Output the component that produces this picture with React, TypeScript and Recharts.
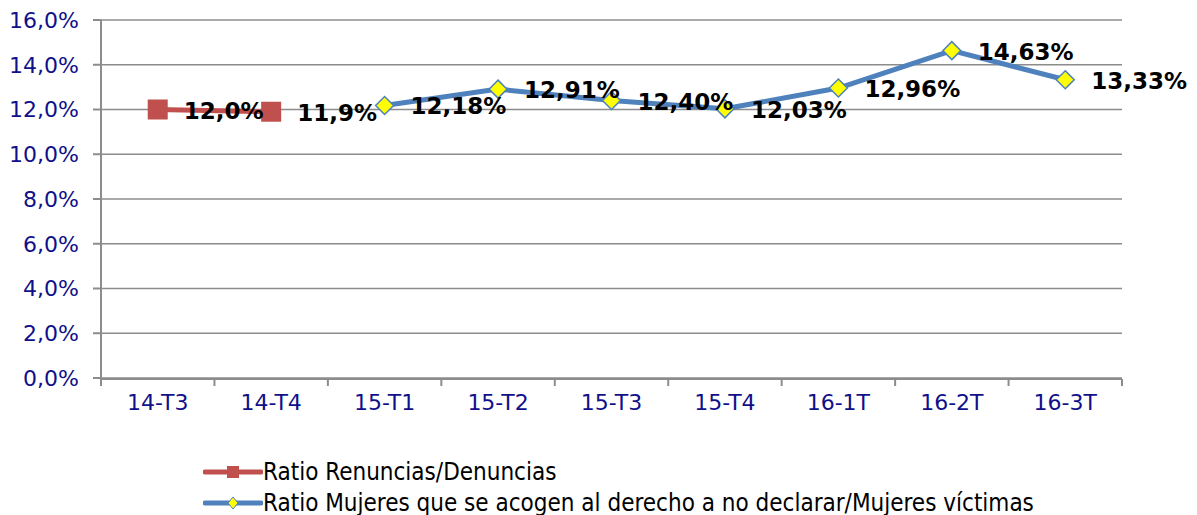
import { LineChart, Line, XAxis, YAxis, CartesianGrid, LabelList } from "recharts";

const categories = ["14-T3", "14-T4", "15-T1", "15-T2", "15-T3", "15-T4", "16-1T", "16-2T", "16-3T"];
const renuncias: (number | null)[] = [12.0, 11.9, null, null, null, null, null, null, null];
const noDeclarar: (number | null)[] = [null, null, 12.18, 12.91, 12.4, 12.03, 12.96, 14.63, 13.33];
const yTicks = [0, 2, 4, 6, 8, 10, 12, 14, 16];
const seriesNames = [
    "Ratio Renuncias/Denuncias",
    "Ratio Mujeres que se acogen al derecho a no declarar/Mujeres víctimas",
];

const RED = "#C0504D";
const BLUE = "#4F81BD";
const GRID = "#8c8c8c";
const AXIS_TEXT = "#10108a";
const FONT = "'DejaVu Sans', Verdana, sans-serif";

const data = categories.map((cat, i) => ({
    cat,
    x: i + 0.5,
    red: renuncias[i],
    blue: noDeclarar[i],
}));

const fmt = (v: number, digits: number) => v.toFixed(digits).replace(".", ",") + "%";

function SquareDot(props: any) {
    const { cx, cy, value } = props;
    if (value == null || cx == null) return null;
    return <rect x={cx - 10} y={cy - 10} width={20} height={20} fill={RED} />;
}

function DiamondDot(props: any) {
    const { cx, cy, value } = props;
    if (value == null || cx == null) return null;
    const r = 9;
    return (
        <polygon
            points={`${cx},${cy - r} ${cx + r},${cy} ${cx},${cy + r} ${cx - r},${cy}`}
            fill="#FFFF00"
            stroke={BLUE}
            strokeWidth={1.5}
        />
    );
}

const makeLabel = (digits: number) => (props: any) => {
    const { x, y, value } = props;
    if (value == null) return null;
    return (
        <text
            x={x + 26}
            y={y + 9}
            fontFamily={FONT}
            fontWeight="bold"
            fontSize={23}
            fill="#000"
        >
            {fmt(Number(value), digits)}
        </text>
    );
};

function LegendRow({ color, marker, text }: { color: string; marker: "square" | "diamond"; text: string }) {
    return (
        <div style={{ display: "flex", alignItems: "center", height: 31 }}>
            <svg width={60} height={20}>
                <line x1={2} y1={10} x2={58} y2={10} stroke={color} strokeWidth={5} strokeLinecap="round" />
                {marker === "square" ? (
                    <rect x={24} y={4} width={12} height={12} fill={RED} />
                ) : (
                    <polygon points="30,4 35,10 30,16 25,10" fill="#FFFF00" stroke={BLUE} strokeWidth={1} />
                )}
            </svg>
            <span style={{ fontFamily: "'DejaVu Sans Condensed', 'DejaVu Sans', sans-serif", fontSize: 24, color: "#000" }}>
                {text}
            </span>
        </div>
    );
}

export default function App() {
    return (
        <div style={{ position: "absolute", left: 0, top: 0, width: 1197, height: 515, background: "#fff" }}>
            <LineChart width={1197} height={515} data={data} margin={{ top: 20, right: 75, left: 0, bottom: 135 }}>
                <CartesianGrid vertical={false} stroke={GRID} strokeWidth={1.5} />
                <XAxis
                    xAxisId="cat"
                    dataKey="cat"
                    scale="band"
                    axisLine={false}
                    tickLine={false}
                    tickSize={0}
                    tickMargin={16}
                    tick={{ fill: AXIS_TEXT, fontSize: 22, fontFamily: FONT }}
                    height={1}
                />
                <XAxis
                    xAxisId="num"
                    type="number"
                    dataKey="x"
                    domain={[0, categories.length]}
                    ticks={categories.map((_, i) => i).concat(categories.length)}
                    interval={0}
                    tick={() => <g />}
                    tickLine={{ stroke: GRID, strokeWidth: 2 }}
                    tickSize={7}
                    stroke={GRID}
                    strokeWidth={2}
                    height={1}
                />
                <YAxis
                    domain={[0, 16]}
                    ticks={yTicks}
                    tickFormatter={(v) => fmt(v, 1)}
                    width={101}
                    tickSize={8}
                    tickMargin={14}
                    stroke={GRID}
                    strokeWidth={2}
                    tick={{ fill: AXIS_TEXT, fontSize: 22, fontFamily: FONT }}
                />
                <Line
                    xAxisId="num"
                    dataKey="red"
                    stroke={RED}
                    strokeWidth={5}
                    dot={<SquareDot />}
                    activeDot={false}
                    isAnimationActive={false}
                >
                    <LabelList dataKey="red" content={makeLabel(1)} />
                </Line>
                <Line
                    xAxisId="num"
                    dataKey="blue"
                    stroke={BLUE}
                    strokeWidth={5}
                    dot={<DiamondDot />}
                    activeDot={false}
                    isAnimationActive={false}
                >
                    <LabelList dataKey="blue" content={makeLabel(2)} />
                </Line>
            </LineChart>
            <div style={{ position: "absolute", left: 203, top: 456 }}>
                <LegendRow color={RED} marker="square" text={seriesNames[0]} />
                <LegendRow color={BLUE} marker="diamond" text={seriesNames[1]} />
            </div>
        </div>
    );
}
